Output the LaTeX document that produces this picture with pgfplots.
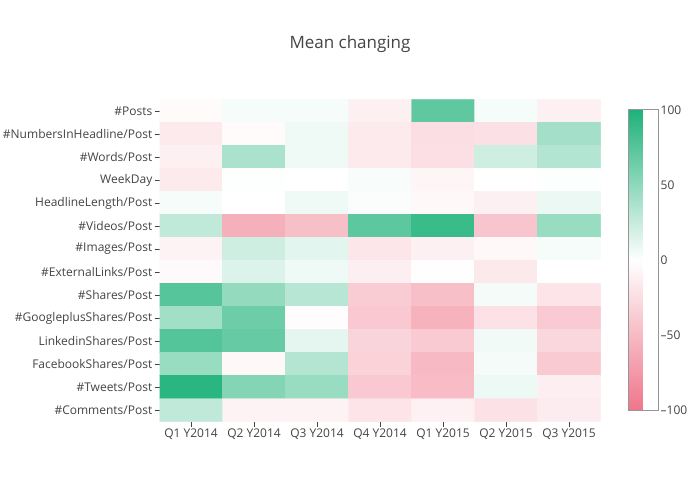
\documentclass[border=0pt]{standalone}
\usepackage{pgfplots}
\pgfplotsset{compat=1.18}
\usepackage{fontspec}
\setmainfont{Open Sans}
\definecolor{txt}{RGB}{68,68,68}
\begin{document}
\begin{tikzpicture}[x=1pt,y=1pt]
\path[use as bounding box, fill=white] (0,0) rectangle (700,500);
\node[font=\fontsize{17}{20}\selectfont, text=txt] at (350,456) {Mean changing};
\begin{axis}[
  at={(159.5pt,78.5pt)}, anchor=south west,
  scale only axis, width=441pt, height=322pt,
  xmin=-0.5, xmax=6.5, ymin=-0.5, ymax=13.5,
  y dir=reverse, enlargelimits=false,
  axis x line*=bottom, axis y line*=left,
  axis line style={draw=none},
  tick align=outside, major tick length=5pt,
  tick style={txt, line width=0.8pt},
  xtick={0,...,6}, ytick={0,...,13},
  xticklabels={Q1 Y2014,Q2 Y2014,Q3 Y2014,Q4 Y2014,Q1 Y2015,Q2 Y2015,Q3 Y2015},
  yticklabels={\#Posts,\#NumbersInHeadline/Post,\#Words/Post,WeekDay,HeadlineLength/Post,\#Videos/Post,\#Images/Post,\#ExternalLinks/Post,\#Shares/Post,\#GoogleplusShares/Post,LinkedinShares/Post,FacebookShares/Post,\#Tweets/Post,\#Comments/Post},
  ticklabel style={font=\fontsize{12}{14}\selectfont, text=txt},
  xticklabel style={inner sep=1pt, yshift=-1pt},
  yticklabel style={inner sep=1pt, xshift=-1pt},
  colormap={pg}{rgb255=(239,118,138) rgb255=(255,255,255) rgb255=(30,178,122)},
  point meta min=-100, point meta max=100,
  colorbar,
  colorbar style={
    at={(parent axis.north east)}, anchor=north west,
    xshift=19.5pt, yshift=-10.5pt,
    scale only axis, width=30pt, height=300pt,
    ytick={-100,-50,0,50,100},
    yticklabels={--100,--50,0,50,100},
    yticklabel pos=right,
    tick style={draw=none},
    major tick length=0pt,
    axis line style={draw={rgb,255:red,150;green,150;blue,150}, line width=1pt},
    yticklabel style={font=\fontsize{12}{14}\selectfont, text=txt, inner sep=1pt, xshift=1pt},
  },
]
\addplot[matrix plot*, mesh/cols=7, point meta=explicit] table[meta=z] {
x y z
0 0 -3
1 0 4
2 0 4
3 0 -11
4 0 71
5 0 4
6 0 -11
0 1 -15
1 1 -3
2 1 7
3 1 -15
4 1 -24
5 1 -22
6 1 41
0 2 -11
1 2 38
2 2 7
3 2 -15
4 2 -23
5 2 22
6 2 34
0 3 -15
1 3 1
2 3 0
3 3 3
4 3 -7
5 3 0
6 3 1
0 4 4
1 4 0
2 4 7
3 4 2
4 4 -5
5 4 -11
6 4 9
0 5 28
1 5 -58
2 5 -47
3 5 72
4 5 88
5 5 -42
6 5 46
0 6 -9
1 6 22
2 6 13
3 6 -18
4 6 -11
5 6 -5
6 6 4
0 7 -4
1 7 16
2 7 7
3 7 -12
4 7 -1
5 7 -16
6 7 0
0 8 75
1 8 48
2 8 32
3 8 -38
4 8 -47
5 8 5
6 8 -20
0 9 42
1 9 65
2 9 -2
3 9 -40
4 9 -56
5 9 -21
6 9 -39
0 10 76
1 10 68
2 10 12
3 10 -31
4 10 -39
5 10 6
6 10 -29
0 11 46
1 11 -5
2 11 34
3 11 -33
4 11 -50
5 11 5
6 11 -39
0 12 95
1 12 55
2 12 46
3 12 -40
4 12 -49
5 12 8
6 12 -12
0 13 28
1 13 -9
2 13 -9
3 13 -20
4 13 -10
5 13 -21
6 13 -14
};
\end{axis}
\end{tikzpicture}
\end{document}
